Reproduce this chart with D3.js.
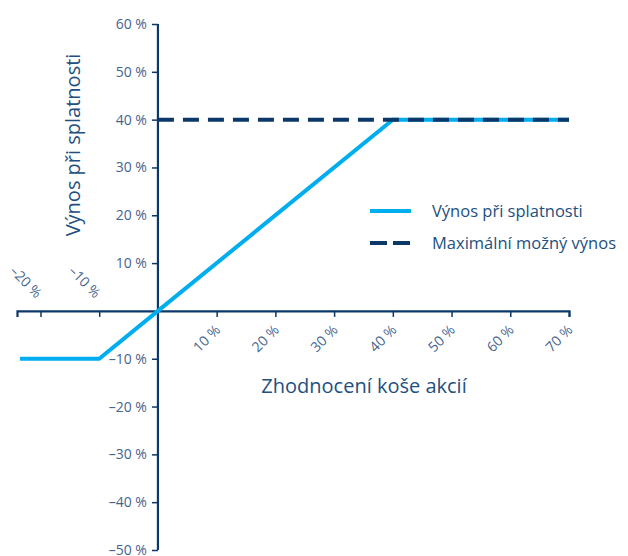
<!DOCTYPE html>
<html>
<head>
<meta charset="utf-8">
<script src="https://cdn.jsdelivr.net/npm/d3@7"></script>
<style>
body { margin: 0; background: #fff; }
text { font-family: "Open Sans", sans-serif; }
</style>
</head>
<body>
<svg id="chart" width="628" height="556"></svg>
<script>
// Data
var xTicks = [-0.2, -0.1, 0.1, 0.2, 0.3, 0.4, 0.5, 0.6, 0.7];
var yTicks = [0.6, 0.5, 0.4, 0.3, 0.2, 0.1, -0.1, -0.2, -0.3, -0.4, -0.5];
var payoffX = [-0.235, -0.1, 0, 0.4, 0.7];
var payoffY = [-0.1, -0.1, 0, 0.4, 0.4];
var capX = [0, 0.7];
var capY = [0.4, 0.4];
var legendLabels = ["Výnos při splatnosti", "Maximální možný výnos"];

var navy = "#0b3868";
var cyan = "#00aeef";
var labelColor = "#45648e";
var titleColor = "#22507e";

function pct(v) {
    var s = String(Math.round(Math.abs(v) * 100)) + " %";
    return v < 0 ? "–" + s : s;
}

var svg = d3.select("#chart");

var x = d3.scaleLinear().domain([-0.24, 0.7]).range([17, 569]);
var y = d3.scaleLinear().domain([-0.5, 0.6]).range([550, 24]);

// X axis, labels turned 45 degrees: negative ones above the axis
var xAxis = svg.append("g")
    .attr("transform", "translate(0," + y(0) + ")")
    .call(d3.axisBottom(x).tickValues(xTicks).tickSize(6).tickFormat(pct));
xAxis.select(".domain").attr("stroke", navy).attr("stroke-width", 2.2);
xAxis.selectAll(".tick line").attr("stroke", navy).attr("stroke-width", 1.5);
xAxis.selectAll(".tick text")
    .attr("fill", labelColor)
    .attr("font-size", 14)
    .attr("text-anchor", "end")
    .attr("dy", null)
    .attr("y", null)
    .attr("transform", function(d) {
        return d < 0 ? "translate(-5,-12) rotate(45)" : "translate(4,20) rotate(-45)";
    });

// Y axis
var yAxis = svg.append("g")
    .attr("transform", "translate(" + x(0) + ",0)")
    .call(d3.axisLeft(y).tickValues(yTicks).tickSize(6).tickPadding(5).tickFormat(pct));
yAxis.select(".domain").attr("stroke", navy).attr("stroke-width", 2.2)
    .attr("d", "M0," + y(0.6) + "V" + y(-0.5));
yAxis.selectAll(".tick line").attr("stroke", navy).attr("stroke-width", 1.5);
yAxis.selectAll(".tick text").attr("fill", labelColor).attr("font-size", 14);

// Lines (dashed cap drawn over the payoff)
var line = d3.line()
    .x(function(d) { return x(d[0]); })
    .y(function(d) { return y(d[1]); });

svg.append("path")
    .datum(d3.zip(payoffX, payoffY))
    .attr("fill", "none")
    .attr("stroke", cyan)
    .attr("stroke-width", 4)
    .attr("d", line);

svg.append("path")
    .datum(d3.zip(capX, capY))
    .attr("fill", "none")
    .attr("stroke", navy)
    .attr("stroke-width", 4)
    .attr("stroke-dasharray", "16,9")
    .attr("d", line);

// Axis titles
svg.append("text")
    .attr("x", 364).attr("y", 393)
    .attr("text-anchor", "middle")
    .attr("fill", titleColor)
    .attr("font-size", 20)
    .text("Zhodnocení koše akcií");

svg.append("text")
    .attr("transform", "translate(80,145) rotate(-90)")
    .attr("text-anchor", "middle")
    .attr("fill", titleColor)
    .attr("font-size", 20)
    .text("Výnos při splatnosti");

// Legend
var legend = svg.append("g").attr("transform", "translate(370,211)");
legend.append("line")
    .attr("x1", 0).attr("x2", 41).attr("y1", 0).attr("y2", 0)
    .attr("stroke", cyan).attr("stroke-width", 4);
legend.append("line")
    .attr("x1", 0).attr("x2", 41).attr("y1", 32).attr("y2", 32)
    .attr("stroke", navy).attr("stroke-width", 4)
    .attr("stroke-dasharray", "17,6");
legend.selectAll("text.leg")
    .data(legendLabels)
    .enter().append("text")
    .attr("class", "leg")
    .attr("x", 62)
    .attr("y", function(d, i) { return i * 32 + 6; })
    .attr("fill", titleColor)
    .attr("font-size", 16.5)
    .text(function(d) { return d; });
</script>
</body>
</html>
